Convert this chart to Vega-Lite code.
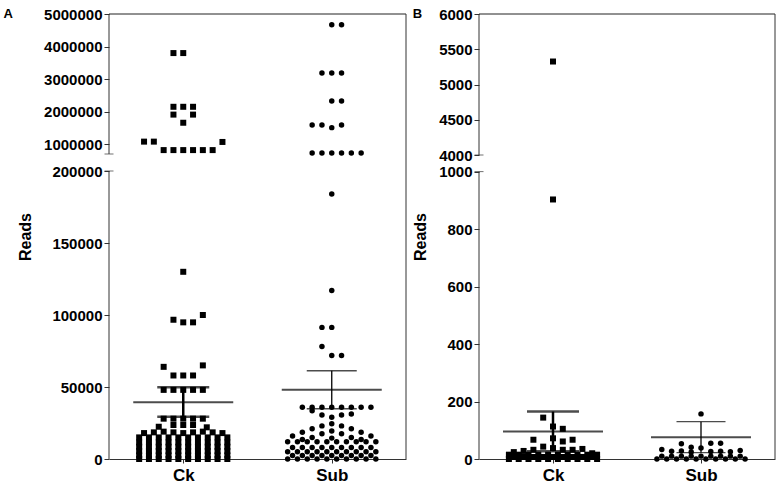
{
  "$schema": "https://vega.github.io/schema/vega-lite/v6.json",
  "padding": {"left": 3, "top": 7, "right": 0, "bottom": 0},
  "spacing": 5,
  "config": {"view": {"stroke": null}, "font": "Liberation Sans"},
  "datasets": {
    "a": [
      {"group":"Ck","slot":-1,"reads":3800000},{"group":"Ck","slot":0,"reads":3800000},
      {"group":"Ck","slot":-1,"reads":2150000},{"group":"Ck","slot":0,"reads":2150000},{"group":"Ck","slot":1,"reads":2150000},
      {"group":"Ck","slot":-1,"reads":1910000},{"group":"Ck","slot":1,"reads":1910000},
      {"group":"Ck","slot":0,"reads":1660000},
      {"group":"Ck","slot":-4,"reads":1080000},{"group":"Ck","slot":-3,"reads":1080000},{"group":"Ck","slot":4,"reads":1070000},
      {"group":"Ck","slot":-2,"reads":820000},{"group":"Ck","slot":-1,"reads":820000},{"group":"Ck","slot":0,"reads":820000},{"group":"Ck","slot":1,"reads":820000},{"group":"Ck","slot":2,"reads":820000},{"group":"Ck","slot":3,"reads":820000},
      {"group":"Ck","slot":0,"reads":130000},
      {"group":"Ck","slot":-1,"reads":96700},{"group":"Ck","slot":0,"reads":94900},{"group":"Ck","slot":1,"reads":94900},{"group":"Ck","slot":2,"reads":100000},
      {"group":"Ck","slot":-2,"reads":64000},{"group":"Ck","slot":2,"reads":65000},{"group":"Ck","slot":-1,"reads":58000},{"group":"Ck","slot":0,"reads":58000},{"group":"Ck","slot":1,"reads":58000},
      {"group":"Ck","slot":-2,"reads":48000},{"group":"Ck","slot":-1,"reads":48000},{"group":"Ck","slot":0,"reads":48000},{"group":"Ck","slot":1,"reads":48000},{"group":"Ck","slot":2,"reads":48000},
      {"group":"Ck","slot":-2,"reads":28000},{"group":"Ck","slot":-1,"reads":28000},{"group":"Ck","slot":0,"reads":28000},{"group":"Ck","slot":1,"reads":28000},{"group":"Ck","slot":2,"reads":28000},
      {"group":"Ck","slot":-2.5,"reads":22400},{"group":"Ck","slot":-1,"reads":23600},{"group":"Ck","slot":0,"reads":23600},{"group":"Ck","slot":1,"reads":23600},{"group":"Ck","slot":2.4,"reads":22000},
      {"group":"Ck","slot":-4,"reads":18000},{"group":"Ck","slot":-3,"reads":18500},{"group":"Ck","slot":-2,"reads":19000},{"group":"Ck","slot":-1,"reads":18500},{"group":"Ck","slot":0,"reads":18000},{"group":"Ck","slot":1,"reads":18500},{"group":"Ck","slot":2,"reads":19000},{"group":"Ck","slot":3,"reads":18500},{"group":"Ck","slot":4,"reads":18000},
      {"group":"Ck","slot":-4.5,"reads":15000},{"group":"Ck","slot":-3.5,"reads":15000},{"group":"Ck","slot":-2.5,"reads":15000},{"group":"Ck","slot":-1.5,"reads":15000},{"group":"Ck","slot":-0.5,"reads":15000},{"group":"Ck","slot":0.5,"reads":15000},{"group":"Ck","slot":1.5,"reads":15000},{"group":"Ck","slot":2.5,"reads":15000},{"group":"Ck","slot":3.5,"reads":15000},{"group":"Ck","slot":4.5,"reads":15000},
      {"group":"Ck","slot":-4.5,"reads":11500},{"group":"Ck","slot":-3.5,"reads":11500},{"group":"Ck","slot":-2.5,"reads":11500},{"group":"Ck","slot":-1.5,"reads":11500},{"group":"Ck","slot":-0.5,"reads":11500},{"group":"Ck","slot":0.5,"reads":11500},{"group":"Ck","slot":1.5,"reads":11500},{"group":"Ck","slot":2.5,"reads":11500},{"group":"Ck","slot":3.5,"reads":11500},{"group":"Ck","slot":4.5,"reads":11500},
      {"group":"Ck","slot":-4.5,"reads":8500},{"group":"Ck","slot":-3.5,"reads":8500},{"group":"Ck","slot":-2.5,"reads":8500},{"group":"Ck","slot":-1.5,"reads":8500},{"group":"Ck","slot":-0.5,"reads":8500},{"group":"Ck","slot":0.5,"reads":8500},{"group":"Ck","slot":1.5,"reads":8500},{"group":"Ck","slot":2.5,"reads":8500},{"group":"Ck","slot":3.5,"reads":8500},{"group":"Ck","slot":4.5,"reads":8500},
      {"group":"Ck","slot":-4.5,"reads":5500},{"group":"Ck","slot":-3.5,"reads":5500},{"group":"Ck","slot":-2.5,"reads":5500},{"group":"Ck","slot":-1.5,"reads":5500},{"group":"Ck","slot":-0.5,"reads":5500},{"group":"Ck","slot":0.5,"reads":5500},{"group":"Ck","slot":1.5,"reads":5500},{"group":"Ck","slot":2.5,"reads":5500},{"group":"Ck","slot":3.5,"reads":5500},{"group":"Ck","slot":4.5,"reads":5500},
      {"group":"Ck","slot":-4.5,"reads":2500},{"group":"Ck","slot":-3.5,"reads":2500},{"group":"Ck","slot":-2.5,"reads":2500},{"group":"Ck","slot":-1.5,"reads":2500},{"group":"Ck","slot":-0.5,"reads":2500},{"group":"Ck","slot":0.5,"reads":2500},{"group":"Ck","slot":1.5,"reads":2500},{"group":"Ck","slot":2.5,"reads":2500},{"group":"Ck","slot":3.5,"reads":2500},{"group":"Ck","slot":4.5,"reads":2500},
      {"group":"Ck","slot":-4.5,"reads":0},{"group":"Ck","slot":-3.5,"reads":0},{"group":"Ck","slot":-2.5,"reads":0},{"group":"Ck","slot":-1.5,"reads":0},{"group":"Ck","slot":-0.5,"reads":0},{"group":"Ck","slot":0.5,"reads":0},{"group":"Ck","slot":1.5,"reads":0},{"group":"Ck","slot":2.5,"reads":0},{"group":"Ck","slot":3.5,"reads":0},{"group":"Ck","slot":4.5,"reads":0},
      {"group":"Sub","slot":0,"reads":4670000},{"group":"Sub","slot":1,"reads":4670000},
      {"group":"Sub","slot":-1,"reads":3190000},{"group":"Sub","slot":0,"reads":3190000},{"group":"Sub","slot":1,"reads":3190000},
      {"group":"Sub","slot":0,"reads":2330000},{"group":"Sub","slot":1,"reads":2330000},
      {"group":"Sub","slot":-2,"reads":1590000},{"group":"Sub","slot":-1,"reads":1590000},{"group":"Sub","slot":1,"reads":1590000},{"group":"Sub","slot":0,"reads":1510000},
      {"group":"Sub","slot":-2,"reads":730000},{"group":"Sub","slot":-1,"reads":730000},{"group":"Sub","slot":0,"reads":730000},{"group":"Sub","slot":1,"reads":730000},{"group":"Sub","slot":2,"reads":730000},{"group":"Sub","slot":3,"reads":730000},
      {"group":"Sub","slot":0,"reads":184000},{"group":"Sub","slot":0,"reads":117000},
      {"group":"Sub","slot":-1,"reads":91400},{"group":"Sub","slot":0,"reads":91400},
      {"group":"Sub","slot":-1,"reads":78200},{"group":"Sub","slot":0,"reads":71800},{"group":"Sub","slot":1,"reads":71800},
      {"group":"Sub","slot":-3,"reads":35900},{"group":"Sub","slot":-2,"reads":35900},{"group":"Sub","slot":-1,"reads":35900},{"group":"Sub","slot":0,"reads":35900},{"group":"Sub","slot":1,"reads":35900},{"group":"Sub","slot":2,"reads":35900},{"group":"Sub","slot":3,"reads":35900},{"group":"Sub","slot":4,"reads":35900},
      {"group":"Sub","slot":-2,"reads":33500},
      {"group":"Sub","slot":-1,"reads":30600},{"group":"Sub","slot":0,"reads":29000},{"group":"Sub","slot":1,"reads":30600},{"group":"Sub","slot":2,"reads":31200},
      {"group":"Sub","slot":0,"reads":24500},{"group":"Sub","slot":-1,"reads":23000},{"group":"Sub","slot":1,"reads":23000},{"group":"Sub","slot":-2,"reads":21000},{"group":"Sub","slot":2,"reads":21000},{"group":"Sub","slot":-3,"reads":18500},{"group":"Sub","slot":3,"reads":18500},{"group":"Sub","slot":-4,"reads":16000},{"group":"Sub","slot":4,"reads":16000},
      {"group":"Sub","slot":-1,"reads":17500},{"group":"Sub","slot":0,"reads":19500},{"group":"Sub","slot":1,"reads":17500},{"group":"Sub","slot":-2,"reads":15000},{"group":"Sub","slot":2,"reads":15000},{"group":"Sub","slot":0,"reads":14500},{"group":"Sub","slot":-3,"reads":13500},{"group":"Sub","slot":3,"reads":13500},
      {"group":"Sub","slot":-4.5,"reads":12000},{"group":"Sub","slot":-3.5,"reads":12000},{"group":"Sub","slot":-2.5,"reads":12000},{"group":"Sub","slot":-1.5,"reads":12000},{"group":"Sub","slot":-0.5,"reads":12000},{"group":"Sub","slot":0.5,"reads":12000},{"group":"Sub","slot":1.5,"reads":12000},{"group":"Sub","slot":2.5,"reads":12000},{"group":"Sub","slot":3.5,"reads":12000},{"group":"Sub","slot":4.5,"reads":12000},
      {"group":"Sub","slot":-4,"reads":8000},{"group":"Sub","slot":-3,"reads":8000},{"group":"Sub","slot":-2,"reads":8000},{"group":"Sub","slot":-1,"reads":8000},{"group":"Sub","slot":0,"reads":8000},{"group":"Sub","slot":1,"reads":8000},{"group":"Sub","slot":2,"reads":8000},{"group":"Sub","slot":3,"reads":8000},{"group":"Sub","slot":4,"reads":8000},
      {"group":"Sub","slot":-4.5,"reads":5000},{"group":"Sub","slot":-3.5,"reads":5000},{"group":"Sub","slot":-2.5,"reads":5000},{"group":"Sub","slot":-1.5,"reads":5000},{"group":"Sub","slot":-0.5,"reads":5000},{"group":"Sub","slot":0.5,"reads":5000},{"group":"Sub","slot":1.5,"reads":5000},{"group":"Sub","slot":2.5,"reads":5000},{"group":"Sub","slot":3.5,"reads":5000},{"group":"Sub","slot":4.5,"reads":5000},
      {"group":"Sub","slot":-4,"reads":2500},{"group":"Sub","slot":-3,"reads":2500},{"group":"Sub","slot":-2,"reads":2500},{"group":"Sub","slot":-1,"reads":2500},{"group":"Sub","slot":0,"reads":2500},{"group":"Sub","slot":1,"reads":2500},{"group":"Sub","slot":2,"reads":2500},{"group":"Sub","slot":3,"reads":2500},{"group":"Sub","slot":4,"reads":2500},
      {"group":"Sub","slot":-4.5,"reads":0},{"group":"Sub","slot":-3.5,"reads":0},{"group":"Sub","slot":-2.5,"reads":0},{"group":"Sub","slot":-1.5,"reads":0},{"group":"Sub","slot":-0.5,"reads":0},{"group":"Sub","slot":0.5,"reads":0},{"group":"Sub","slot":1.5,"reads":0},{"group":"Sub","slot":2.5,"reads":0},{"group":"Sub","slot":3.5,"reads":0},{"group":"Sub","slot":4.5,"reads":0}
    ],
    "a_sum": [
      {"group":"Ck","mean":39400,"lo":29400,"hi":49800},
      {"group":"Sub","mean":48100,"lo":34900,"hi":61300}
    ],
    "b": [
      {"group":"Ck","slot":0,"reads":5326},{"group":"Ck","slot":0,"reads":903},
      {"group":"Ck","slot":-1,"reads":144},{"group":"Ck","slot":0,"reads":113},{"group":"Ck","slot":1,"reads":105},
      {"group":"Ck","slot":-2,"reads":67},{"group":"Ck","slot":0,"reads":72},{"group":"Ck","slot":1,"reads":61},{"group":"Ck","slot":2,"reads":67},
      {"group":"Ck","slot":-4,"reads":24},{"group":"Ck","slot":-3,"reads":28},{"group":"Ck","slot":-2,"reads":32},{"group":"Ck","slot":-1,"reads":43},{"group":"Ck","slot":0,"reads":38},{"group":"Ck","slot":1,"reads":32},{"group":"Ck","slot":2,"reads":32},{"group":"Ck","slot":3,"reads":35},{"group":"Ck","slot":4,"reads":20},
      {"group":"Ck","slot":-4.5,"reads":15},{"group":"Ck","slot":-3.5,"reads":15},{"group":"Ck","slot":-2.5,"reads":15},{"group":"Ck","slot":-1.5,"reads":15},{"group":"Ck","slot":-0.5,"reads":15},{"group":"Ck","slot":0.5,"reads":15},{"group":"Ck","slot":1.5,"reads":15},{"group":"Ck","slot":2.5,"reads":15},{"group":"Ck","slot":3.5,"reads":15},{"group":"Ck","slot":4.5,"reads":15},
      {"group":"Ck","slot":-4,"reads":7},{"group":"Ck","slot":-3,"reads":7},{"group":"Ck","slot":-2,"reads":7},{"group":"Ck","slot":-1,"reads":7},{"group":"Ck","slot":0,"reads":7},{"group":"Ck","slot":1,"reads":7},{"group":"Ck","slot":2,"reads":7},{"group":"Ck","slot":3,"reads":7},{"group":"Ck","slot":4,"reads":7},
      {"group":"Ck","slot":-4.5,"reads":0},{"group":"Ck","slot":-3.5,"reads":0},{"group":"Ck","slot":-2.5,"reads":0},{"group":"Ck","slot":-1.5,"reads":0},{"group":"Ck","slot":-0.5,"reads":0},{"group":"Ck","slot":0.5,"reads":0},{"group":"Ck","slot":1.5,"reads":0},{"group":"Ck","slot":2.5,"reads":0},{"group":"Ck","slot":3.5,"reads":0},{"group":"Ck","slot":4.5,"reads":0},
      {"group":"Sub","slot":0,"reads":157},
      {"group":"Sub","slot":-2,"reads":53},{"group":"Sub","slot":-1,"reads":41},{"group":"Sub","slot":0,"reads":38},{"group":"Sub","slot":1,"reads":55},{"group":"Sub","slot":2,"reads":55},
      {"group":"Sub","slot":-4,"reads":33},{"group":"Sub","slot":-3,"reads":27},{"group":"Sub","slot":-2,"reads":28},{"group":"Sub","slot":-1,"reads":24},{"group":"Sub","slot":1,"reads":26},{"group":"Sub","slot":2,"reads":27},{"group":"Sub","slot":3,"reads":25},{"group":"Sub","slot":4,"reads":30},
      {"group":"Sub","slot":-4,"reads":10},{"group":"Sub","slot":-3,"reads":10},{"group":"Sub","slot":-2,"reads":10},{"group":"Sub","slot":-1,"reads":10},{"group":"Sub","slot":0,"reads":10},{"group":"Sub","slot":1,"reads":10},{"group":"Sub","slot":2,"reads":10},{"group":"Sub","slot":3,"reads":10},{"group":"Sub","slot":4,"reads":10},
      {"group":"Sub","slot":-4.5,"reads":0},{"group":"Sub","slot":-3.5,"reads":0},{"group":"Sub","slot":-2.5,"reads":0},{"group":"Sub","slot":-1.5,"reads":0},{"group":"Sub","slot":-0.5,"reads":0},{"group":"Sub","slot":0.5,"reads":0},{"group":"Sub","slot":1.5,"reads":0},{"group":"Sub","slot":2.5,"reads":0},{"group":"Sub","slot":3.5,"reads":0},{"group":"Sub","slot":4.5,"reads":0}
    ],
    "b_sum": [
      {"group":"Ck","mean":96,"lo":27,"hi":165},
      {"group":"Sub","mean":76,"lo":22,"hi":130}
    ]
  },
  "hconcat": [
    {
      "width": 297, "height": 445,
      "title": {"text": "A", "anchor": "start", "frame": "bounds", "fontSize": 13, "fontWeight": "bold", "color": "black", "offset": -14, "dx": -14},
      "layer": [
        {
          "data": {"name": "a"},
          "mark": {"type": "point", "filled": true, "opacity": 1, "color": "black"},
          "encoding": {
            "x": {"field": "group", "type": "nominal", "title": null, "scale": {"type": "point", "domain": ["Ck", "Sub"], "padding": 0.5},
                  "axis": {"labelFontSize": 17, "labelFontWeight": "bold", "labelColor": "black", "labelAngle": 0, "tickSize": 4, "labelPadding": 4, "domainColor": "#333", "tickColor": "#333", "grid": false}},
            "xOffset": {"field": "slot", "type": "quantitative", "scale": {"domain": [-1, 1], "range": [-9.8, 9.8]}},
            "y": {"field": "reads", "type": "quantitative", "title": "Reads",
                  "scale": {"domain": [0, 200000, 700000, 5000000], "range": [445, 157, 140, 0], "zero": false, "nice": false},
                  "axis": {"values": [0, 50000, 100000, 150000, 200000, 1000000, 2000000, 3000000, 4000000, 5000000], "format": "d",
                           "labelFontSize": 15, "labelFontWeight": "bold", "labelColor": "black", "labelPadding": 2, "labelOverlap": false, "labelFlush": false,
                           "tickSize": 5, "tickColor": "#333", "domain": false, "grid": false,
                           "titleFontSize": 16, "titleFontWeight": "bold", "titleColor": "black", "titlePadding": 10}},
            "shape": {"field": "group", "type": "nominal", "scale": {"domain": ["Ck", "Sub"], "range": ["square", "circle"]}, "legend": null},
            "size": {"field": "group", "type": "nominal", "scale": {"domain": ["Ck", "Sub"], "range": [36, 30]}, "legend": null}
          }
        },
        {"data": {"values": [{}]}, "mark": {"type": "rule", "color": "#333"}, "encoding": {"x": {"value": 0}, "y": {"datum": 0}, "y2": {"datum": 200000}}},
        {"data": {"values": [{}]}, "mark": {"type": "rule", "color": "#333"}, "encoding": {"x": {"value": 0}, "y": {"datum": 700000}, "y2": {"datum": 5000000}}},
        {"data": {"values": [{}]}, "mark": {"type": "tick", "orient": "horizontal", "color": "#333", "size": 9, "thickness": 1}, "encoding": {"x": {"value": 0}, "y": {"datum": 700000}}},
        {"data": {"values": [{}]}, "mark": {"type": "tick", "orient": "horizontal", "color": "#333", "size": 9, "thickness": 1}, "encoding": {"x": {"value": 0}, "y": {"datum": 200000}}},
        {"data": {"values": [{}]}, "mark": {"type": "rule", "color": "#222"}, "encoding": {"x": {"value": 0}, "x2": {"value": "width"}, "y": {"datum": 5000000}}},
        {"data": {"values": [{}]}, "mark": {"type": "rule", "color": "#333"}, "encoding": {"x": {"value": "width"}, "y": {"datum": 0}, "y2": {"datum": 5000000}}},
        {"data": {"name": "a_sum"}, "mark": {"type": "tick", "orient": "horizontal", "color": "black", "size": 100, "thickness": 2},
         "encoding": {"x": {"field": "group", "type": "nominal", "title": null}, "y": {"field": "mean", "type": "quantitative", "title": "Reads"}}},
        {"data": {"name": "a_sum"}, "transform": [{"filter": "datum.group == 'Ck'"}], "mark": {"type": "rule", "color": "black", "strokeWidth": 2.5},
         "encoding": {"x": {"field": "group", "type": "nominal", "title": null}, "y": {"field": "lo", "type": "quantitative", "title": "Reads"}, "y2": {"field": "hi"}}},
        {"data": {"name": "a_sum"}, "transform": [{"filter": "datum.group == 'Ck'"}], "mark": {"type": "tick", "orient": "horizontal", "color": "black", "size": 52, "thickness": 2.5},
         "encoding": {"x": {"field": "group", "type": "nominal", "title": null}, "y": {"field": "hi", "type": "quantitative", "title": "Reads"}}},
        {"data": {"name": "a_sum"}, "transform": [{"filter": "datum.group == 'Ck'"}], "mark": {"type": "tick", "orient": "horizontal", "color": "black", "size": 52, "thickness": 2.5},
         "encoding": {"x": {"field": "group", "type": "nominal", "title": null}, "y": {"field": "lo", "type": "quantitative", "title": "Reads"}}},
        {"data": {"name": "a_sum"}, "transform": [{"filter": "datum.group == 'Sub'"}], "mark": {"type": "rule", "color": "black", "strokeWidth": 1.3},
         "encoding": {"x": {"field": "group", "type": "nominal", "title": null}, "y": {"field": "lo", "type": "quantitative", "title": "Reads"}, "y2": {"field": "hi"}}},
        {"data": {"name": "a_sum"}, "transform": [{"filter": "datum.group == 'Sub'"}], "mark": {"type": "tick", "orient": "horizontal", "color": "black", "size": 50, "thickness": 1.3},
         "encoding": {"x": {"field": "group", "type": "nominal", "title": null}, "y": {"field": "hi", "type": "quantitative", "title": "Reads"}}},
        {"data": {"name": "a_sum"}, "transform": [{"filter": "datum.group == 'Sub'"}], "mark": {"type": "tick", "orient": "horizontal", "color": "black", "size": 50, "thickness": 1.3},
         "encoding": {"x": {"field": "group", "type": "nominal", "title": null}, "y": {"field": "lo", "type": "quantitative", "title": "Reads"}}}
      ]
    },
    {
      "width": 296, "height": 445,
      "title": {"text": "B", "anchor": "start", "frame": "bounds", "fontSize": 13, "fontWeight": "bold", "color": "black", "offset": -14},
      "layer": [
        {
          "data": {"name": "b"},
          "mark": {"type": "point", "filled": true, "opacity": 1, "color": "black"},
          "encoding": {
            "x": {"field": "group", "type": "nominal", "title": null, "scale": {"type": "point", "domain": ["Ck", "Sub"], "padding": 0.5},
                  "axis": {"labelFontSize": 17, "labelFontWeight": "bold", "labelColor": "black", "labelAngle": 0, "tickSize": 4, "labelPadding": 4, "domainColor": "#333", "tickColor": "#333", "grid": false}},
            "xOffset": {"field": "slot", "type": "quantitative", "scale": {"domain": [-1, 1], "range": [-9.8, 9.8]}},
            "y": {"field": "reads", "type": "quantitative", "title": "Reads",
                  "scale": {"domain": [0, 1000, 4000, 6000], "range": [445, 157.6, 141, 0], "zero": false, "nice": false},
                  "axis": {"values": [0, 200, 400, 600, 800, 1000, 4000, 4500, 5000, 5500, 6000], "format": "d",
                           "labelFontSize": 15, "labelFontWeight": "bold", "labelColor": "black", "labelPadding": 2, "labelOverlap": false, "labelFlush": false,
                           "tickSize": 5, "tickColor": "#333", "domain": false, "grid": false,
                           "titleFontSize": 16, "titleFontWeight": "bold", "titleColor": "black", "titlePadding": 10}},
            "shape": {"field": "group", "type": "nominal", "scale": {"domain": ["Ck", "Sub"], "range": ["square", "circle"]}, "legend": null},
            "size": {"field": "group", "type": "nominal", "scale": {"domain": ["Ck", "Sub"], "range": [36, 30]}, "legend": null}
          }
        },
        {"data": {"values": [{}]}, "mark": {"type": "rule", "color": "#333"}, "encoding": {"x": {"value": 0}, "y": {"datum": 0}, "y2": {"datum": 1000}}},
        {"data": {"values": [{}]}, "mark": {"type": "rule", "color": "#333"}, "encoding": {"x": {"value": 0}, "y": {"datum": 4000}, "y2": {"datum": 6000}}},
        {"data": {"values": [{}]}, "mark": {"type": "tick", "orient": "horizontal", "color": "#333", "size": 9, "thickness": 1}, "encoding": {"x": {"value": 0}, "y": {"datum": 4000}}},
        {"data": {"values": [{}]}, "mark": {"type": "tick", "orient": "horizontal", "color": "#333", "size": 9, "thickness": 1}, "encoding": {"x": {"value": 0}, "y": {"datum": 1000}}},
        {"data": {"values": [{}]}, "mark": {"type": "rule", "color": "#222"}, "encoding": {"x": {"value": 0}, "x2": {"value": "width"}, "y": {"datum": 6000}}},
        {"data": {"values": [{}]}, "mark": {"type": "rule", "color": "#333"}, "encoding": {"x": {"value": "width"}, "y": {"datum": 0}, "y2": {"datum": 6000}}},
        {"data": {"name": "b_sum"}, "mark": {"type": "tick", "orient": "horizontal", "color": "black", "size": 100, "thickness": 2},
         "encoding": {"x": {"field": "group", "type": "nominal", "title": null}, "y": {"field": "mean", "type": "quantitative", "title": "Reads"}}},
        {"data": {"name": "b_sum"}, "transform": [{"filter": "datum.group == 'Ck'"}], "mark": {"type": "rule", "color": "black", "strokeWidth": 2.5},
         "encoding": {"x": {"field": "group", "type": "nominal", "title": null}, "y": {"field": "lo", "type": "quantitative", "title": "Reads"}, "y2": {"field": "hi"}}},
        {"data": {"name": "b_sum"}, "transform": [{"filter": "datum.group == 'Ck'"}], "mark": {"type": "tick", "orient": "horizontal", "color": "black", "size": 52, "thickness": 2.5},
         "encoding": {"x": {"field": "group", "type": "nominal", "title": null}, "y": {"field": "hi", "type": "quantitative", "title": "Reads"}}},
        {"data": {"name": "b_sum"}, "transform": [{"filter": "datum.group == 'Ck'"}], "mark": {"type": "tick", "orient": "horizontal", "color": "black", "size": 52, "thickness": 2.5},
         "encoding": {"x": {"field": "group", "type": "nominal", "title": null}, "y": {"field": "lo", "type": "quantitative", "title": "Reads"}}},
        {"data": {"name": "b_sum"}, "transform": [{"filter": "datum.group == 'Sub'"}], "mark": {"type": "rule", "color": "black", "strokeWidth": 1.3},
         "encoding": {"x": {"field": "group", "type": "nominal", "title": null}, "y": {"field": "lo", "type": "quantitative", "title": "Reads"}, "y2": {"field": "hi"}}},
        {"data": {"name": "b_sum"}, "transform": [{"filter": "datum.group == 'Sub'"}], "mark": {"type": "tick", "orient": "horizontal", "color": "black", "size": 49, "thickness": 1.3},
         "encoding": {"x": {"field": "group", "type": "nominal", "title": null}, "y": {"field": "hi", "type": "quantitative", "title": "Reads"}}},
        {"data": {"name": "b_sum"}, "transform": [{"filter": "datum.group == 'Sub'"}], "mark": {"type": "tick", "orient": "horizontal", "color": "black", "size": 49, "thickness": 1.3},
         "encoding": {"x": {"field": "group", "type": "nominal", "title": null}, "y": {"field": "lo", "type": "quantitative", "title": "Reads"}}}
      ]
    }
  ]
}
